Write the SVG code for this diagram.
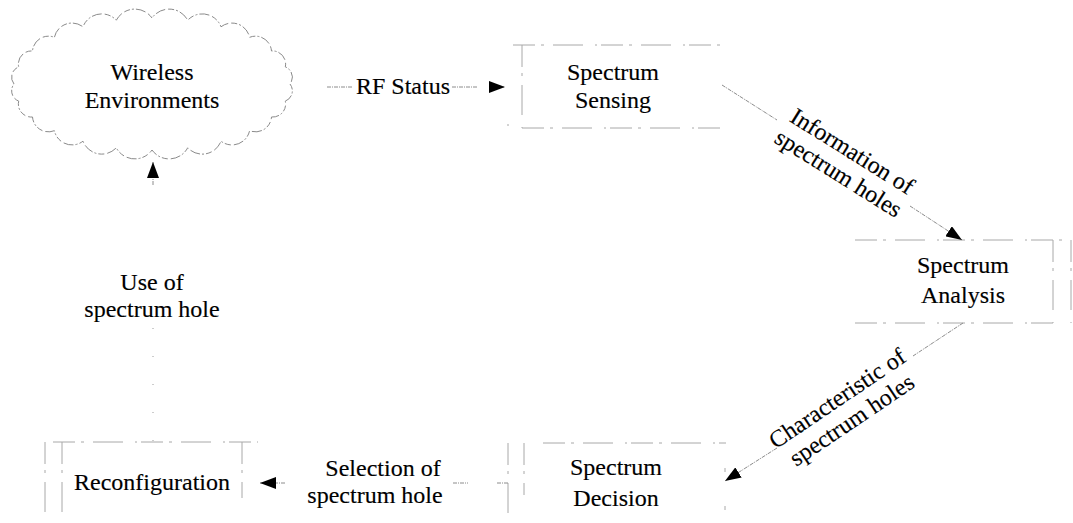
<svg xmlns="http://www.w3.org/2000/svg" width="1073" height="523" viewBox="0 0 1073 523">
  <defs>
    <style>
      .label { font-family: "Liberation Serif", "Times New Roman", serif; font-size: 24px; fill: #000; stroke: #000; stroke-width: 0.15; text-anchor: middle; }
      .edge { fill: none; stroke: #8c8c8c; stroke-width: 1; stroke-dasharray: 4 1 1 1; }
      .faint { fill: none; stroke: #a8a8a8; stroke-width: 1; stroke-dasharray: 22 6 3 9 30 12 2 4; }
      .cloud { fill: none; stroke: #8a8a8a; stroke-width: 1; stroke-dasharray: 6 2 2 2 10 3; }
      .sparse { fill: none; stroke: #9a9a9a; stroke-width: 1; stroke-dasharray: 1 27; }
    </style>
    <marker id="arrow" viewBox="0 0 16 12" refX="16" refY="6" markerWidth="16" markerHeight="12" markerUnits="userSpaceOnUse" orient="auto">
      <path d="M0,0 L16,6 L0,12 Z" fill="#000"/>
    </marker>
  </defs>
  <rect width="1073" height="523" fill="#fff"/>

  <!-- Cloud: wireless environments -->
  <g id="wireless-environments">
    <path class="cloud" d="M290,84 A11,11 0 0 1 285.3,101.1 A13,13 0 0 1 271.5,117 A16,16 0 0 1 249.6,130.7 A18,18 0 0 1 221,141.2 A20,20 0 0 1 187.7,147.8 A21,21 0 0 1 152,150 A21,21 0 0 1 116.3,147.8 A20,20 0 0 1 83,141.2 A18,18 0 0 1 54.4,130.7 A16,16 0 0 1 32.5,117 A13,13 0 0 1 18.7,101.1 A11,11 0 0 1 14,84 A11,11 0 0 1 18.7,66.9 A13,13 0 0 1 32.5,51 A16,16 0 0 1 54.4,37.3 A18,18 0 0 1 83,26.8 A20,20 0 0 1 116.3,20.2 A21,21 0 0 1 152,18 A21,21 0 0 1 187.7,20.2 A20,20 0 0 1 221,26.8 A18,18 0 0 1 249.6,37.3 A16,16 0 0 1 271.5,51 A13,13 0 0 1 285.3,66.9 A11,11 0 0 1 290,84 Z"/>
    <text class="label" x="152" y="80">Wireless</text>
    <text class="label" x="152" y="108">Environments</text>
  </g>

  <!-- Spectrum Sensing -->
  <g id="spectrum-sensing">
    <path class="faint" d="M513,45 H723 M522,45 V128 M522,128 H722 M507,125 H509"/>
    <text class="label" x="613" y="80">Spectrum</text>
    <text class="label" x="613" y="108">Sensing</text>
  </g>

  <!-- Spectrum Analysis (double right edge) -->
  <g id="spectrum-analysis">
    <path class="faint" d="M855,240 H1071 M1053,240 V323 M1071,240 V323 M855,323 H1053"/>
    <text class="label" x="963" y="273">Spectrum</text>
    <text class="label" x="963" y="303">Analysis</text>
  </g>

  <!-- Spectrum Decision (double left edge) -->
  <g id="spectrum-decision">
    <path class="faint" d="M543,443 H726 M508,443 V523 M524,443 V495 M725,468 V472 M725,506 V510"/>
    <text class="label" x="616" y="475">Spectrum</text>
    <text class="label" x="616" y="506">Decision</text>
  </g>

  <!-- Reconfiguration (double left edge) -->
  <g id="reconfiguration">
    <path class="faint" d="M53,442 H258 M45,442 V523 M62,442 V523 M242,442 V498"/>
    <text class="label" x="152" y="490">Reconfiguration</text>
  </g>

  <!-- Connectors and their labels -->
  <g id="connectors">
    <!-- RF Status -->
    <line class="edge" x1="327" y1="87" x2="353" y2="87"/>
    <line class="edge" x1="452" y1="87" x2="478" y2="87"/>
    <line class="edge" x1="498" y1="87" x2="505" y2="87" marker-end="url(#arrow)"/>
    <text class="label" x="403" y="94">RF Status</text>

    <!-- Sensing to Analysis -->
    <line class="edge" x1="722" y1="85" x2="777" y2="120"/>
    <line class="edge" x1="910" y1="206" x2="962" y2="240" marker-end="url(#arrow)"/>
    <g transform="translate(845,163) rotate(32)">
      <text class="label" x="0" y="-6">Information of</text>
      <text class="label" x="0" y="20">spectrum holes</text>
    </g>

    <!-- Analysis to Decision -->
    <line class="edge" x1="963" y1="323" x2="913" y2="356"/>
    <line class="edge" x1="777" y1="448" x2="725" y2="481" marker-end="url(#arrow)"/>
    <g transform="translate(845,410) rotate(-34)">
      <text class="label" x="0" y="-6">Characteristic of</text>
      <text class="label" x="0" y="20">spectrum holes</text>
    </g>

    <!-- Decision to Reconfiguration -->
    <line class="edge" x1="497" y1="483" x2="508" y2="483"/>
    <line class="edge" x1="453" y1="483" x2="468" y2="483"/>
    <line class="edge" x1="285" y1="483" x2="260" y2="483" marker-end="url(#arrow)"/>
    <text class="label" x="383" y="476">Selection of</text>
    <text class="label" x="375" y="503">spectrum hole</text>

    <!-- Reconfiguration back to the environment -->
    <line class="sparse" x1="153" y1="441" x2="153" y2="320"/>
    <line class="edge" x1="153" y1="185" x2="153" y2="162" marker-end="url(#arrow)"/>
    <text class="label" x="152" y="290">Use of</text>
    <text class="label" x="152" y="317">spectrum hole</text>
  </g>
</svg>
